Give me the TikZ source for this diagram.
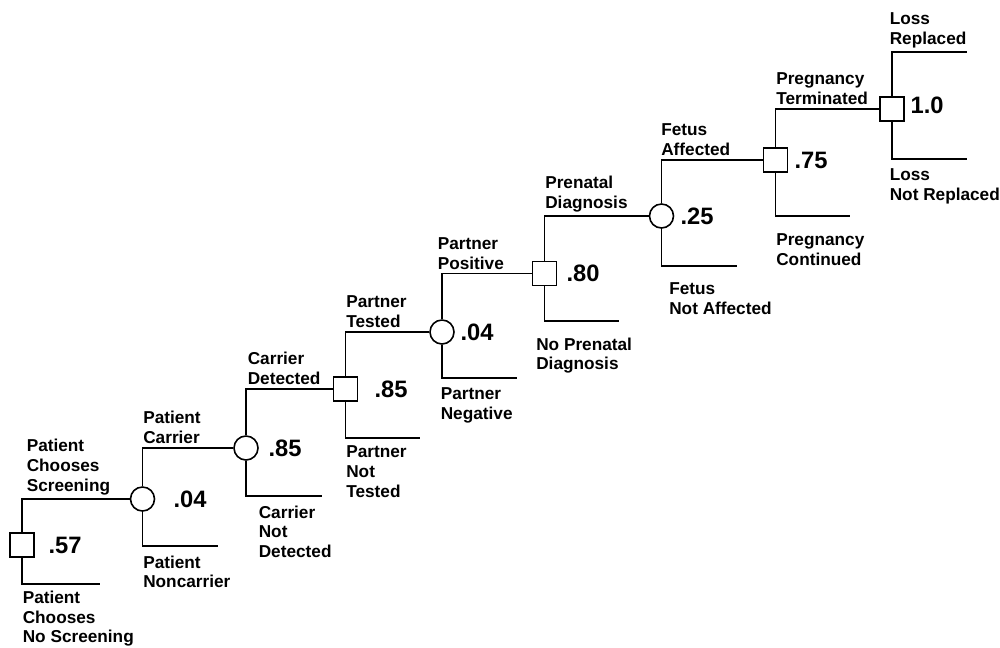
\documentclass[tikz,border=0pt]{standalone}
\usepackage{fontspec}
\setmainfont{Liberation Sans}
\usetikzlibrary{positioning}

\tikzset{
  decision/.style={draw, rectangle, minimum size=4.8mm, inner sep=0pt},
  chance/.style={draw, circle, minimum size=4.8mm, inner sep=0pt},
  branchlbl/.style={font=\fontsize{9.8}{11.3}\selectfont\bfseries, align=left, inner sep=0pt},
  toplbl/.style={branchlbl, anchor=south west, yshift=2pt},
  botlbl/.style={branchlbl, anchor=north west, yshift=-5pt},
  prob/.style={font=\fontsize{13.5}{15}\selectfont\bfseries, inner sep=0pt}
}

\begin{document}
\begin{tikzpicture}[x=0.2mm, y=-0.2mm, line width=0.9pt]
  \useasboundingbox (0,0) rectangle (1000,647);

  % decision (square) and chance (circle) nodes
  \node[decision] (s1) at (22,545) {};
  \node[chance]   (c1) at (142.5,499) {};
  \node[chance]   (c2) at (246,448) {};
  \node[decision] (s2) at (345.5,389) {};
  \node[chance]   (c3) at (442,332) {};
  \node[decision] (s3) at (544.5,273.5) {};
  \node[chance]   (c4) at (661.5,216) {};
  \node[decision] (s4) at (775.5,160) {};
  \node[decision] (s5) at (892,109) {};

  % open ends of the branches
  \coordinate (e1) at (100,584);
  \coordinate (e2) at (218,546);
  \coordinate (e3) at (322,496);
  \coordinate (e4) at (420,438);
  \coordinate (e5) at (517,378);
  \coordinate (e6) at (619,321);
  \coordinate (e7) at (737,266);
  \coordinate (e8) at (850,216);
  \coordinate (e9) at (967,52);
  \coordinate (e10) at (967,159);

  % probabilities
  \node[prob, right=2.6mm of s1] (p1) {.57};
  \node[prob, right=3.5mm of c1] (p2) {.04};
  \node[prob, right=1.8mm of c2] (p3) {.85};
  \node[prob, right=3.1mm of s2] (p4) {.85};
  \node[prob, right=1mm of c3] (p5) {.04};
  \node[prob, right=1.7mm of s3] (p6) {.80};
  \node[prob, right=1.1mm of c4] (p7) {.25};
  \node[prob, right=1.1mm of s4] (p8) {.75};
  \node[prob, right=1mm of s5, yshift=0.8mm] (p9) {1.0};

  % upper branches
  \draw (s1.north) |- (c1.west) node[pos=0.5, toplbl, xshift=0.8mm] {Patient\\Chooses\\Screening};
  \draw (c1.north) |- (c2.west) node[pos=0.5, toplbl] {Patient\\Carrier};
  \draw (c2.north) |- (s2.west) node[pos=0.5, toplbl, xshift=0.2mm] {Carrier\\Detected};
  \draw (s2.north) |- (c3.west) node[pos=0.5, toplbl] {Partner\\Tested};
  \draw (c3.north) |- (s3.west) node[pos=0.5, toplbl, xshift=-1mm] {Partner\\Positive};
  \draw (s3.north) |- (c4.west) node[pos=0.5, toplbl] {Prenatal\\Diagnosis};
  \draw (c4.north) |- (s4.west) node[pos=0.5, toplbl, xshift=-0.2mm] {Fetus\\Affected};
  \draw (s4.north) |- (s5.west) node[pos=0.5, toplbl] {Pregnancy\\Terminated};
  \draw (s5.north) |- (e9) node[pos=0.5, toplbl, xshift=-0.6mm] {Loss\\Replaced};

  % lower branches
  \draw (s1.south) |- (e1) node[pos=0.5, botlbl, yshift=1.6pt] {Patient\\Chooses\\No Screening};
  \draw (c1.south) |- (e2) node[pos=0.5, botlbl] {Patient\\Noncarrier};
  \draw (c2.south) |- (e3) node[pos=0.5, botlbl, xshift=2.4mm] {Carrier\\Not\\Detected};
  \draw (s2.south) |- (e4) node[pos=0.5, botlbl, yshift=1pt] {Partner\\Not\\Tested};
  \draw (c3.south) |- (e5) node[pos=0.5, botlbl, xshift=-0.4mm] {Partner\\Negative};
  \draw (s3.south) |- (e6) node[pos=0.5, botlbl, xshift=-1.8mm, yshift=-4pt] {No Prenatal\\Diagnosis};
  \draw (c4.south) |- (e7) node[pos=0.5, botlbl, xshift=1.4mm, yshift=-4pt] {Fetus\\Not Affected};
  \draw (s4.south) |- (e8) node[pos=0.5, botlbl, yshift=-4.7pt] {Pregnancy\\Continued};
  \draw (s5.south) |- (e10) node[pos=0.5, botlbl, xshift=-0.6mm] {Loss\\Not Replaced};
\end{tikzpicture}
\end{document}
